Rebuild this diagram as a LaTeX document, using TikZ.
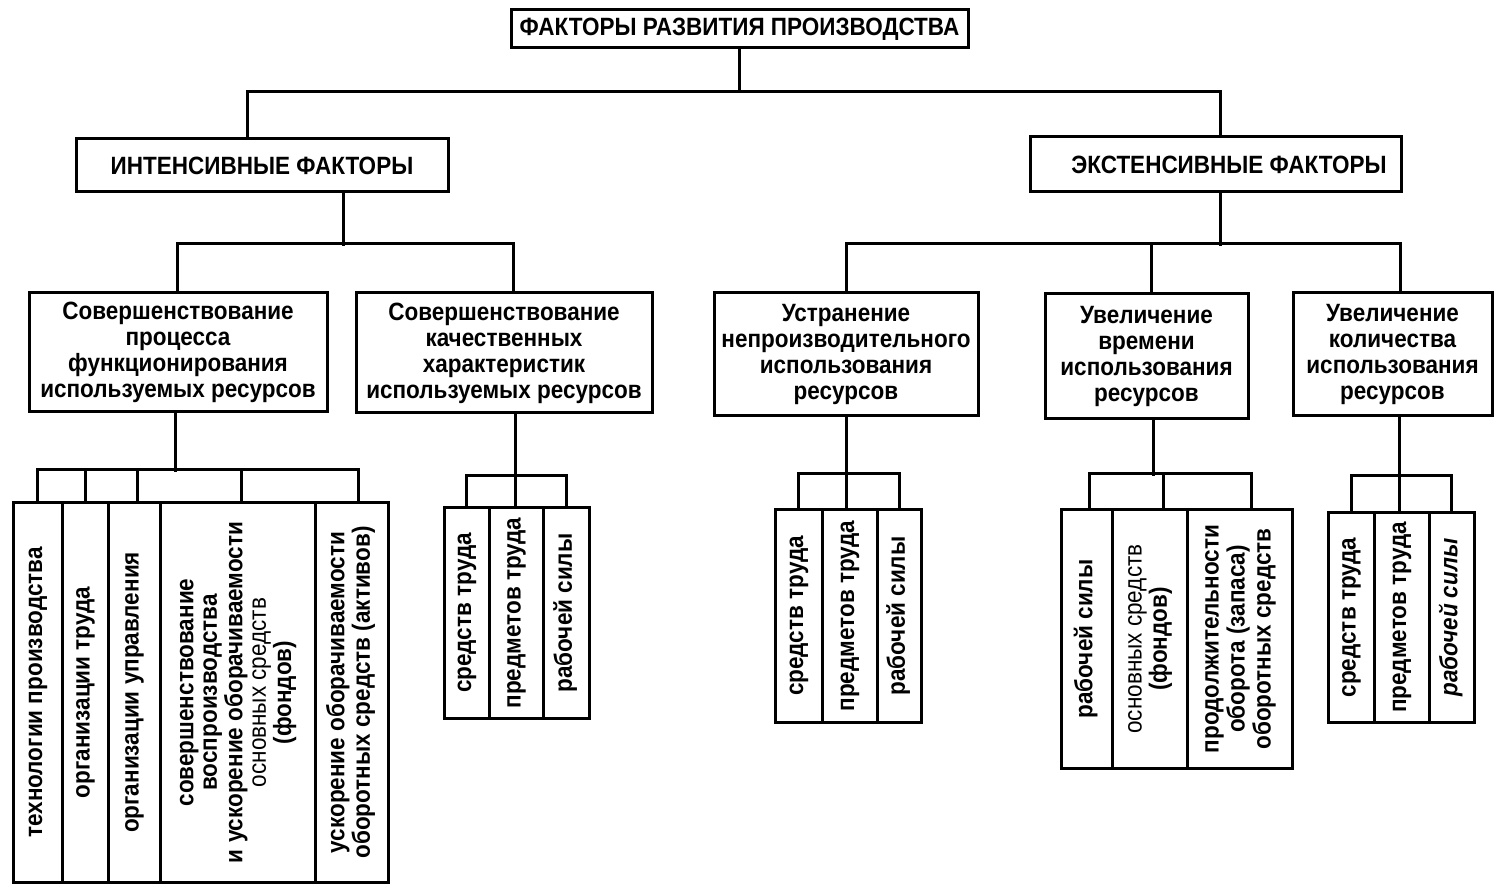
\documentclass[tikz,border=0pt]{standalone}
\usepackage{fontspec}
\setmainfont{Liberation Sans}[FakeStretch=0.9]
\usepackage{graphicx}
% vertical multi-line label for the narrow boxes
\newcommand{\vlabel}[1]{\rotatebox{90}{\begin{tabular}{@{}c@{}}#1\end{tabular}}}
\tikzset{
  box/.style={draw, line width=1.5pt, inner sep=0pt, align=center,
              font=\fontsize{12.5}{13}\selectfont\bfseries},
  head/.style={box, font=\fontsize{12.5}{14}\selectfont\bfseries},
  leaf/.style={draw, line width=1.5pt, inner sep=0pt,
               font=\fontsize{12.5}{11.8}\selectfont\bfseries},
  conn/.style={line width=1.5pt},
}
\begin{document}
\begin{tikzpicture}[x=0.5pt, y=-0.5pt]
\useasboundingbox (0,0) rectangle (1495,887);

% ---- top level
\node[head, minimum width=228.5pt, minimum height=19pt] (top) at (739.5,29)
  {ФАКТОРЫ РАЗВИТИЯ ПРОИЗВОДСТВА};
\node[head, minimum width=186pt, minimum height=26.5pt] (int) at (262,165.5)
  {ИНТЕНСИВНЫЕ ФАКТОРЫ};
\node[head, minimum width=185.5pt, minimum height=27.5pt] (ext) at (1215.5,164.5)
  {\hspace*{13.5pt}ЭКСТЕНСИВНЫЕ ФАКТОРЫ};

% ---- second level
\node[box, minimum width=149pt, minimum height=59.5pt] (A) at (178,352.5)
  {Совершенствование\\процесса\\функционирования\\используемых ресурсов};
\node[box, minimum width=148pt, minimum height=60pt] (B) at (504,353)
  {Совершенствование\\качественных\\характеристик\\используемых ресурсов};
\node[box, minimum width=132pt, minimum height=61.5pt] (C) at (846,354.5)
  {Устранение\\непроизводительного\\использования\\ресурсов};
\node[box, minimum width=101.5pt, minimum height=62.5pt] (D) at (1146.5,356.5)
  {Увеличение\\времени\\использования\\ресурсов};
\node[box, minimum width=99.5pt, minimum height=61.5pt] (E) at (1392.5,354.5)
  {Увеличение\\количества\\использования\\ресурсов};

% ---- leaves under A
\node[leaf, minimum width=24.5pt, minimum height=189.5pt] (a1) at (37.5,692.5)
  {\vlabel{технологии производства}};
\node[leaf, minimum width=23pt, minimum height=189.5pt] (a2) at (85,692.5)
  {\vlabel{организации труда}};
\node[leaf, minimum width=26pt, minimum height=189.5pt] (a3) at (134,692.5)
  {\vlabel{организации управления}};
\node[leaf, minimum width=77.5pt, minimum height=189.5pt] (a4) at (237.5,692.5)
  {\vlabel{совершенствование\\воспроизводства\\и ускорение оборачиваемости\\{\mdseries основных средств}\\(фондов)}};
\node[leaf, minimum width=36.5pt, minimum height=189.5pt] (a5) at (351.5,692.5)
  {\vlabel{ускорение оборачиваемости\\оборотных средств (активов)}};

% ---- leaves under B
\node[leaf, minimum width=22.5pt, minimum height=105pt] (b1) at (466.5,613)
  {\vlabel{средств труда}};
\node[leaf, minimum width=27pt, minimum height=105pt] (b2) at (516,613)
  {\vlabel{предметов труда}};
\node[leaf, minimum width=23pt, minimum height=105pt] (b3) at (566,613)
  {\vlabel{рабочей силы}};

% ---- leaves under C
\node[leaf, minimum width=23.5pt, minimum height=106pt] (c1) at (798.5,616)
  {\vlabel{средств труда}};
\node[leaf, minimum width=27.5pt, minimum height=106pt] (c2) at (849.5,616)
  {\vlabel{предметов труда}};
\node[leaf, minimum width=22pt, minimum height=106pt] (c3) at (899,616)
  {\vlabel{рабочей силы}};

% ---- leaves under D
\node[leaf, minimum width=25.5pt, minimum height=129pt] (d1) at (1086.5,639)
  {\vlabel{рабочей силы}};
\node[leaf, minimum width=37.5pt, minimum height=129pt] (d2) at (1149.5,639)
  {\vlabel{{\mdseries основных средств}\\(фондов)}};
\node[leaf, minimum width=52.5pt, minimum height=129pt,
      font=\fontsize{12.5}{12.8}\selectfont\bfseries] (d3) at (1239.5,639)
  {\vlabel{продолжительности\\оборота (запаса)\\оборотных средств}};

% ---- leaves under E
\node[leaf, minimum width=23pt, minimum height=104.5pt] (e1) at (1351,617.5)
  {\vlabel{средств труда}};
\node[leaf, minimum width=27.5pt, minimum height=104.5pt] (e2) at (1401.5,617.5)
  {\vlabel{предметов труда}};
\node[leaf, minimum width=22.5pt, minimum height=104.5pt] (e3) at (1451.5,617.5)
  {\vlabel{\itshape рабочей силы}};

% ---- connectors: top level
\draw[conn] (top.south) -- (top.south |- 0,93);
\draw[conn] (int.north -| 247,0) -- ++(0,-46) -| (ext.north -| 1220,0);

% ---- connectors: intensive branch
\draw[conn] (int.south -| 343,0) -- ++(0,53);
\draw[conn] (A.north -| 177,0) -- ++(0,-48) -| (B.north -| 513,0);

% ---- connectors: extensive branch
\draw[conn] (ext.south -| 1220,0) -- ++(0,53);
\draw[conn] (C.north) -- ++(0,-48) -| (E.north -| 1400,0);
\draw[conn] (D.north -| 1151,0) -- ++(0,-49);

% ---- connectors: leaves of A
\draw[conn] (A.south -| 175,0) -- ++(0,59);
\draw[conn] (a1.north) -- ++(0,-32) -| (a5.north -| 358,0);
\draw[conn] (a2.north) -- ++(0,-32);
\draw[conn] (a3.north -| 137,0) -- ++(0,-32);
\draw[conn] (a4.north -| 241,0) -- ++(0,-32);

% ---- connectors: leaves of B
\draw[conn] (B.south -| 515,0) -- ++(0,64);
\draw[conn] (b1.north) -- ++(0,-31) -| (b3.north);
\draw[conn] (b2.north -| 515,0) -- ++(0,-31);

% ---- connectors: leaves of C
\draw[conn] (C.south) -- ++(0,59);
\draw[conn] (c1.north) -- ++(0,-35) -| (c3.north);
\draw[conn] (c2.north -| 846,0) -- ++(0,-35);

% ---- connectors: leaves of D
\draw[conn] (D.south -| 1153,0) -- ++(0,56);
\draw[conn] (d1.north -| 1089,0) -- ++(0,-35) -| (d3.north -| 1251,0);
\draw[conn] (d2.north -| 1163,0) -- ++(0,-35);

% ---- connectors: leaves of E
\draw[conn] (E.south -| 1399,0) -- ++(0,61);
\draw[conn] (e1.north) -- ++(0,-36) -| (e3.north);
\draw[conn] (e2.north -| 1399,0) -- ++(0,-36);
\end{tikzpicture}
\end{document}
